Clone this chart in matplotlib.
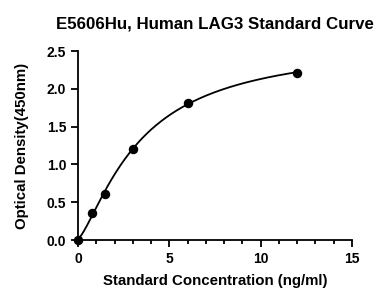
import matplotlib.pyplot as plt
import numpy as np
from matplotlib.ticker import MultipleLocator

plt.rcParams['font.family'] = ['Liberation Sans', 'DejaVu Sans']
plt.rcParams['font.weight'] = 'bold'

conc = np.array([0, 0.75, 1.5, 3, 6, 12])
od = np.array([0.0, 0.363, 0.615, 1.21, 1.815, 2.21])


def fit_4pl(x, y):
    # grid over slope/midpoint, top and bottom solved by least squares
    best = None
    for b in np.linspace(0.8, 3.0, 111):
        for c in np.linspace(1.0, 30.0, 291):
            f = 1.0 / (1.0 + (x / c) ** b)
            A = np.column_stack([f, 1 - f])
            coef, *_ = np.linalg.lstsq(A, y, rcond=None)
            err = np.sum((A @ coef - y) ** 2)
            if best is None or err < best[0]:
                best = (err, b, c, coef)
    _, b, c, (a, d) = best
    return lambda v: d + (a - d) / (1.0 + (v / c) ** b)


curve = fit_4pl(conc, od)
xs = np.linspace(conc[0], conc[-1], 300)
ys = curve(xs)

fig = plt.figure(figsize=(3.83, 2.9), dpi=100)
ax = fig.add_axes([0.2037, 0.1724, 0.7154, 0.6517])
ax.plot(xs, ys, color='black', lw=1.3)
ax.plot(conc, od, 'o', color='black', ms=5.8, clip_on=False)

ax.set_xlim(0, 15)
ax.set_ylim(0, 2.5)
ax.xaxis.set_major_locator(MultipleLocator(5))
ax.xaxis.set_minor_locator(MultipleLocator(1))
ax.yaxis.set_major_locator(MultipleLocator(0.5))
ax.yaxis.set_major_formatter(plt.FormatStrFormatter('%.1f'))
for s in ['top', 'right']:
    ax.spines[s].set_visible(False)
for s in ['left', 'bottom']:
    ax.spines[s].set_linewidth(1.3)
ax.tick_params(which='major', length=5, width=1.3, labelsize=10, pad=3.5)
ax.tick_params(which='minor', length=3, width=1.3)

ax.set_title("E5606Hu, Human LAG3 Standard Curve", fontsize=12.2, fontweight='bold', pad=16)
ax.set_xlabel("Standard Concentration (ng/ml)", fontsize=10.8, fontweight='bold', labelpad=6)
ax.set_ylabel("Optical Density(450nm)", fontsize=10.8, fontweight='bold', labelpad=13)

plt.savefig("out.png", dpi=100)
